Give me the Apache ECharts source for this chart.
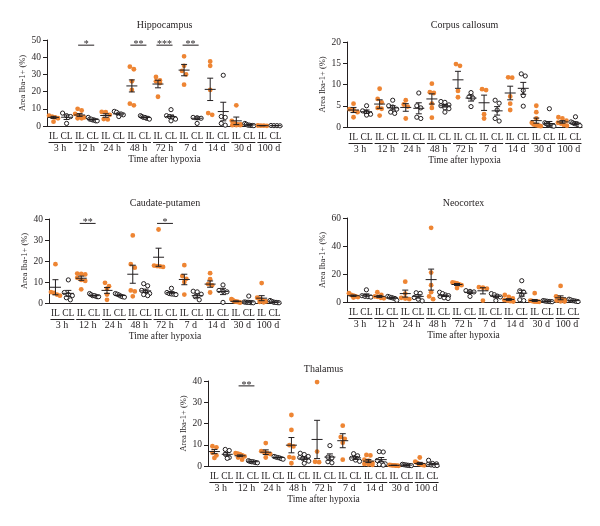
<!DOCTYPE html>
<html><head><meta charset="utf-8">
<script src="https://cdn.jsdelivr.net/npm/echarts@6/dist/echarts.min.js"></script>
<style>html,body{margin:0;padding:0;background:#fff}#c{width:600px;height:526px}</style>
</head><body><div id="c"></div><script>
// ---------- categories ----------
const times = ['3 h','12 h','24 h','48 h','72 h','7 d','14 d','30 d','100 d'];
const sides = ['IL','CL'];

// ---------- Hippocampus ----------
const hippoIL = [[6,5.5,5,4.5,2.5],[10,9,7,6,5.5,5,4.5,4.5],[8.2,8,6.5,4,3.8],[34.5,33,26,21,13,12],[28.5,26.5,26,25,17],[40.5,35,32,30,24],[37.5,35,21,7.5,6.5],[12,3,1.5,1,0.5,0.5,0.5,1],[0.3,0.2,0.2,0.1]];
const hippoILMean = [5,6.4,6.1,23.3,24.4,32.5,21.3,3,0.2];
const hippoILSem = [0.6,0.8,1,3.5,2.2,3.3,6.5,2.2,0.05];
const hippoCL = [[6,5.5,7.5,1.5],[5,4,3.5,3.5,3,3,4],[8.5,8,7,6.5,5.5,7],[6,5.5,5,4.5,4.5,4,5],[9.5,6,5.5,5,4,3],[5,4.8,4.5,1.5],[29.5,5.5,5,1.5,0.5],[1.5,1,0.5,0.5,0.3,0.3,0.2],[0.3,0.2,0.2,0.1]];
const hippoCLMean = [5.1,3.8,7,5,5.5,4.5,8.4,0.6,0.2];
const hippoCLSem = [1.3,0.3,0.5,0.3,0.9,0.8,5.4,0.2,0.05];
const hippoSig = [[1,'*'],[3,'**'],[4,'***'],[5,'**']];

// ---------- Corpus callosum ----------
const ccIL = [[5.5,4.2,4,3.5,2.3],[9,6.6,5.8,4.5,4.3,2.7],[6.3,5.3,4.8,2],[10.2,8.2,8,5.5,4.5,2.2],[14.8,14.4,8.5,7],[8.9,8.7,3,2],[11.7,11.6,7.2,5.5,4],[5,3.5,2,1,0.6,0.4,0.3,0.2,0.5],[2.3,2,1.5,1,0.8,0.5,0.3]];
const ccILMean = [4,5.4,4.6,6.6,11.1,5.7,8,1.5,1.2];
const ccILSem = [0.6,1,0.9,1.2,2,1.8,1.6,0.6,0.3];
const ccCL = [[5,3.8,3.5,3,2.8],[6.3,5,4.7,4.2,3.5,3.2],[8,5,4.5,2.3,2],[6,5.8,5.2,5,4.5,4.3,3.5],[8.1,7.1,6.8,4.8],[6.3,5.6,4,2,1.4],[12.5,12,8.6,7.4,4.9],[4.3,1,0.8,0.6,0.5,0.4,0.3,0.3,0.2],[2.4,1.2,1,0.8,0.7,0.5,0.3]];
const ccCLMean = [3.6,4.5,4.4,5,6.8,3.8,9.1,0.8,0.9];
const ccCLSem = [0.4,0.5,1.3,0.3,0.7,1,1.4,0.5,0.3];
const ccSig = [];

// ---------- Caudate-putamen ----------
const cpIL = [[18.5,5.2,4.8,4,3.5],[14,13.8,13.6,12,11,10.5,6.5],[9.6,8,6.8,4,1.5],[32.2,18.5,16.8,6,5.5,3.2],[35,17.8,17.6,17.4,17.2],[18,12.8,11.5,10,4],[14.2,11.3,9,8.4,5],[1.8,1.5,1,0.8,0.5,0.3,0.2,0.5,0.7],[9.5,2.5,2,1.5,1,0.8,0.5,0.3]];
const cpILMean = [7.5,11.8,6,13.7,21.8,11.2,9,0.8,2.3];
const cpILSem = [3.6,1,1.4,4.3,4.3,2.5,1.5,0.2,1.2];
const cpCL = [[11,5,4,3.5,2.5,1.5],[4.5,4,3.5,3.3,3,3,3.5],[4.5,4.2,3.8,3.3,3,2.8],[9.2,8.2,6,5.2,4.5,3.5,4],[7,5,4.5,4.3,4.2,4],[5.6,5.3,4.2,3,1.5],[8.6,6,5.6,5.3,0.3],[3.3,0.5,0.4,0.3,0.2,0.2,0.1,0.3],[1.2,0.8,0.5,0.3,0.2,0.1,0.3]];
const cpCLMean = [4.6,3.5,3.6,5.8,4.9,3.5,5.5,0.5,0.4];
const cpCLSem = [1.4,0.2,0.3,0.8,0.5,0.8,1.5,0.4,0.15];
const cpSig = [[1,'**'],[4,'*']];

// ---------- Neocortex ----------
const ncIL = [[6.3,5,4.5,4,3.5,3.2],[7,5,4,3.6,3,2.6],[14.5,6,3,2.5,2],[53,21,12,7,4,2],[14,13.6,13.2,12.6,12,10],[10.6,10.2,9.6,1],[5,3.6,2.5,1.5,1,0.6,0.3],[6.3,1,0.8,0.5,0.3,0.3,0.2,0.1],[11.5,4,3,2,1.5,1,0.5,0.3]];
const ncILMean = [4.5,4,6,16,12.5,8,1.8,1.1,3];
const ncILSem = [0.5,0.7,2.5,7.5,0.7,2.2,0.6,0.7,1.4];
const ncCL = [[8.7,4.5,4,3.8,3.5],[4,3.5,3.2,2.8,2.5,1.2],[6.6,6.2,3.2,2,0.8],[7,6,5,4.5,4,3,2.5],[8.1,7.6,7.2,4],[6,5.2,4.2,3.6,1],[15.2,8,7,5,1.6,1],[1,0.8,0.6,0.5,0.4,0.3,0.2],[2,1.5,1,0.8,0.5,0.3]];
const ncCLMean = [4.8,3,4,4.5,7,4,6.3,0.5,1];
const ncCLSem = [1,0.4,1.2,0.6,0.9,0.9,2.1,0.1,0.3];
const ncSig = [];

// ---------- Thalamus ----------
const thIL = [[9.3,8.8,6.2,5,3.8],[6,5.8,5.5,5,4.5,4,3],[10.8,7,6.5,6,5.6,4],[24,17,9.8,9.2,4.2,3.8,1.3],[39.5,6.8,2,1.8],[19,13.6,12.8,11,3],[5.2,5,3,2.5,1.5,1,0.8,0.5],[0.5,0.4,0.3,0.3,0.2,0.2,0.1],[4,2,1.5,1,0.8,0.5,0.3]];
const thILMean = [6.8,4.8,6.5,9.8,12.5,11.9,2.3,0.3,1.2];
const thILSem = [1,0.4,1.1,3.6,9,3.3,0.7,0.05,0.5];
const thCL = [[7.8,7.3,5.6,4,3.6],[2.5,2.2,2,2,1.8,1.6,1.5],[4.5,4.2,4,3.8,3.5,3.2],[6,5.4,4.5,4,3.5,2.8,2.3,1.3],[9.6,4.2,3.8,2,1.5],[5.8,4.8,3.6,2.8,2.2],[6.8,6.6,2.6,1.6,1,0.7,0.4],[0.8,0.6,0.5,0.4,0.3,0.2,0.2],[2.7,1.2,1,0.8,0.5,0.3,0.2]];
const thCLMean = [5.5,2,4,3.7,4.2,3.8,3,0.4,0.8];
const thCLSem = [0.8,0.1,0.2,0.6,1.5,0.7,1,0.1,0.3];
const thSig = [[1,'**']];

// ---------- styling / layout ----------
const FONT = '"Liberation Serif","DejaVu Serif",serif';
const ORANGE = '#EE8533';
const INK = '#231F20';
const xLabels = [];
times.forEach(() => sides.forEach(s => xLabels.push(s)));

const panels = [
  {title:'Hippocampus', il:hippoIL, ilM:hippoILMean, ilS:hippoILSem, cl:hippoCL, clM:hippoCLMean, clS:hippoCLSem, max:50, step:10, sig:hippoSig, sigY:47, box:[47,40,235,86], titleY:25},
  {title:'Corpus callosum', il:ccIL, ilM:ccILMean, ilS:ccILSem, cl:ccCL, clM:ccCLMean, clS:ccCLSem, max:20, step:5, sig:ccSig, sigY:19, box:[347,42,235,85], titleY:25},
  {title:'Caudate-putamen', il:cpIL, ilM:cpILMean, ilS:cpILSem, cl:cpCL, clM:cpCLMean, clS:cpCLSem, max:40, step:10, sig:cpSig, sigY:37.9, box:[49,219,232,84], titleY:203},
  {title:'Neocortex', il:ncIL, ilM:ncILMean, ilS:ncILSem, cl:ncCL, clM:ncCLMean, clS:ncCLSem, max:60, step:20, sig:ncSig, sigY:58, box:[347,218,233,84], titleY:203},
  {title:'Thalamus', il:thIL, ilM:thILMean, ilS:thILSem, cl:thCL, clM:thCLMean, clS:thCLSem, max:40, step:10, sig:thSig, sigY:37.7, box:[208,381,231,85], titleY:369}
];

// simple beeswarm spread in pixel space
function swarm(pys, d, maxSpan) {
  const order = pys.map((y, i) => i).sort((a, b) => pys[a] - pys[b]);
  const offs = new Array(pys.length).fill(0);
  let i = 0;
  while (i < order.length) {
    const start = pys[order[i]];
    let j = i;
    while (j + 1 < order.length && pys[order[j + 1]] - start < d) j++;
    const n = j - i + 1;
    let sp = d;
    if (n > 1 && (n - 1) * sp > maxSpan) sp = maxSpan / (n - 1);
    for (let k = 0; k < n; k++) offs[order[i + k]] = (k - (n - 1) / 2) * sp;
    i = j + 1;
  }
  return offs;
}

const option = {animation:false, grid:[], xAxis:[], yAxis:[], series:[], graphic:[]};

panels.forEach((p, k) => {
  const [L, T, W, H] = p.box;
  option.grid.push({left:L, top:T, width:W, height:H, containLabel:false});
  option.graphic.push({type:'text', x:L + W / 2, y:p.titleY, silent:true,
    style:{text:p.title, fill:INK, font:'10px ' + FONT, textAlign:'center', textVerticalAlign:'middle'}});
  option.xAxis.push({type:'category', gridIndex:k, data:xLabels, boundaryGap:true,
    axisLine:{show:true, lineStyle:{color:INK, width:1}}, axisTick:{show:false},
    axisLabel:{interval:0, margin:5, fontSize:9.5, fontFamily:FONT, color:INK},
    name:'Time after hypoxia', nameLocation:'middle', nameGap:28,
    nameTextStyle:{fontSize:9.5, fontFamily:FONT, color:INK}, splitLine:{show:false}});
  option.yAxis.push({type:'value', gridIndex:k, min:0, max:p.max, interval:p.step,
    axisLine:{show:true, lineStyle:{color:INK, width:1}},
    axisTick:{show:true, length:4, lineStyle:{color:INK}},
    axisLabel:{margin:6, fontSize:9.5, fontFamily:FONT, color:INK},
    splitLine:{show:false},
    name:'Area Iba-1+ (%)', nameLocation:'middle', nameGap:16, nameRotate:90,
    nameTextStyle:{fontSize:8.5, fontFamily:FONT, color:INK}});

  // groups: dots + mean + SEM
  const groups = [];
  times.forEach((t, ti) => {
    groups.push({cat:ti * 2, side:0, pts:p.il[ti], mean:p.ilM[ti], sem:p.ilS[ti]});
    groups.push({cat:ti * 2 + 1, side:1, pts:p.cl[ti], mean:p.clM[ti], sem:p.clS[ti]});
  });
  option.series.push({type:'custom', xAxisIndex:k, yAxisIndex:k, silent:true, clip:false,
    encode:{x:0, y:1},
    data:groups.map(g => [g.cat, g.mean]),
    renderItem:(params, api) => {
      const g = groups[params.dataIndex];
      const c = api.coord([g.cat, g.mean]);
      const x = c[0];
      const pys = g.pts.map(v => api.coord([g.cat, v])[1]);
      const offs = swarm(pys, 4, 9);
      const children = [];
      pys.forEach((py, i) => {
        children.push({type:'circle', shape:{cx:x + offs[i], cy:py, r:g.side === 0 ? 2.4 : 2.1},
          style:g.side === 0 ? {fill:ORANGE, stroke:null} : {fill:'#fff', stroke:INK, lineWidth:1}});
      });
      const yt = api.coord([g.cat, g.mean + g.sem])[1];
      const yb = api.coord([g.cat, Math.max(0, g.mean - g.sem)])[1];
      const ls = {stroke:INK, lineWidth:1};
      children.push({type:'line', shape:{x1:x, y1:yt, x2:x, y2:yb}, style:ls});
      children.push({type:'line', shape:{x1:x - 3, y1:yt, x2:x + 3, y2:yt}, style:ls});
      children.push({type:'line', shape:{x1:x - 3, y1:yb, x2:x + 3, y2:yb}, style:ls});
      children.push({type:'line', shape:{x1:x - 5.5, y1:c[1], x2:x + 5.5, y2:c[1]}, style:ls});
      return {type:'group', children};
    }});

  // time labels with line above
  option.series.push({type:'custom', xAxisIndex:k, yAxisIndex:k, silent:true, clip:false,
    encode:{x:0, y:1},
    data:times.map((t, ti) => [ti * 2, 0]),
    renderItem:(params, api) => {
      const ti = params.dataIndex;
      const a = api.coord([ti * 2, 0]);
      const b = api.coord([ti * 2 + 1, 0]);
      const y0 = a[1];
      return {type:'group', children:[
        {type:'line', shape:{x1:a[0] - 5, y1:y0 + 16.5, x2:b[0] + 6, y2:y0 + 16.5}, style:{stroke:INK, lineWidth:1}},
        {type:'text', x:(a[0] + b[0]) / 2, y:y0 + 17.5,
          style:{text:times[ti], fill:INK, font:'10px ' + FONT, textAlign:'center', textVerticalAlign:'top'}}
      ]};
    }});

  // significance bars
  if (p.sig.length) {
    option.series.push({type:'custom', xAxisIndex:k, yAxisIndex:k, silent:true, clip:false,
      encode:{x:0, y:1},
      data:p.sig.map(s => [s[0] * 2, p.sigY]),
      renderItem:(params, api) => {
        const s = p.sig[params.dataIndex];
        const a = api.coord([s[0] * 2, p.sigY]);
        const b = api.coord([s[0] * 2 + 1, p.sigY]);
        return {type:'group', children:[
          {type:'line', shape:{x1:a[0] - 1.5, y1:a[1], x2:b[0] + 1.5, y2:a[1]}, style:{stroke:INK, lineWidth:1}},
          {type:'text', x:(a[0] + b[0]) / 2, y:a[1] - 1,
            style:{text:s[1], fill:INK, font:'10px ' + FONT, textAlign:'center', textVerticalAlign:'middle'}}
        ]};
      }});
  }
});

const chart = echarts.init(document.getElementById('c'), null, {renderer:'canvas'});
chart.setOption(option);
</script></body></html>
